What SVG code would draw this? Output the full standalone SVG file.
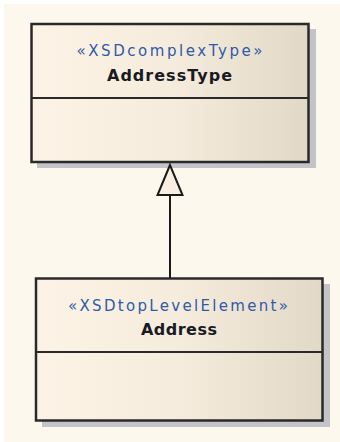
<svg xmlns="http://www.w3.org/2000/svg" width="340" height="442" viewBox="0 0 340 442">
  <style>
    .box { stroke: #2a2a2a; stroke-width: 2.5; }
    .div { stroke: #2a2a2a; stroke-width: 2; fill: none; }
    .shadow { fill: #c3c3c8; }
    .st { font-family: "DejaVu Sans", "Liberation Sans", sans-serif; font-size: 15px; fill: #2f5aa8; text-anchor: middle; }
    .nm { font-family: "DejaVu Sans", "Liberation Sans", sans-serif; font-size: 16px; font-weight: bold; fill: #1a1a24; text-anchor: middle; }
    .conn { stroke: #1a1a1a; stroke-width: 2; fill: none; }
  </style>
  <defs>
    <linearGradient id="fillGrad" x1="0" y1="0" x2="1" y2="0">
      <stop offset="0" stop-color="#fcf3e6"/>
      <stop offset="0.5" stop-color="#f6ecdd"/>
      <stop offset="1" stop-color="#e2d8c7"/>
    </linearGradient>
  </defs>
  <rect x="0" y="0" width="340" height="442" fill="#ffffff"/>
  <rect x="4" y="4" width="336" height="438" fill="#fdf8ee"/>

  <g id="node-AddressType">
    <rect class="shadow" x="37" y="29" width="279" height="139"/>
    <rect class="box" x="31.5" y="24" width="277" height="138" fill="url(#fillGrad)"/>
    <line class="div" x1="31.5" y1="98" x2="308.5" y2="98"/>
    <text class="st" x="169.5" y="55.5" textLength="186" lengthAdjust="spacing">«XSDcomplexType»</text>
    <text class="nm" x="169.5" y="80.5" textLength="125" lengthAdjust="spacing">AddressType</text>
  </g>

  <g id="node-Address">
    <rect class="shadow" x="42" y="284" width="288" height="143"/>
    <rect class="box" x="36" y="278.5" width="286.5" height="142" fill="url(#fillGrad)"/>
    <line class="div" x1="36" y1="352" x2="322.5" y2="352"/>
    <text class="st" x="178" y="310.5" textLength="220" lengthAdjust="spacing">«XSDtopLevelElement»</text>
    <text class="nm" x="179" y="334.5" textLength="76" lengthAdjust="spacing">Address</text>
  </g>

  <g id="connectors">
    <line class="conn" x1="170" y1="195" x2="170" y2="278"/>
    <polygon points="170,165 157.5,195 182.5,195" fill="#f8efe2" stroke="#1a1a1a" stroke-width="2" stroke-linejoin="miter"/>
  </g>
</svg>
